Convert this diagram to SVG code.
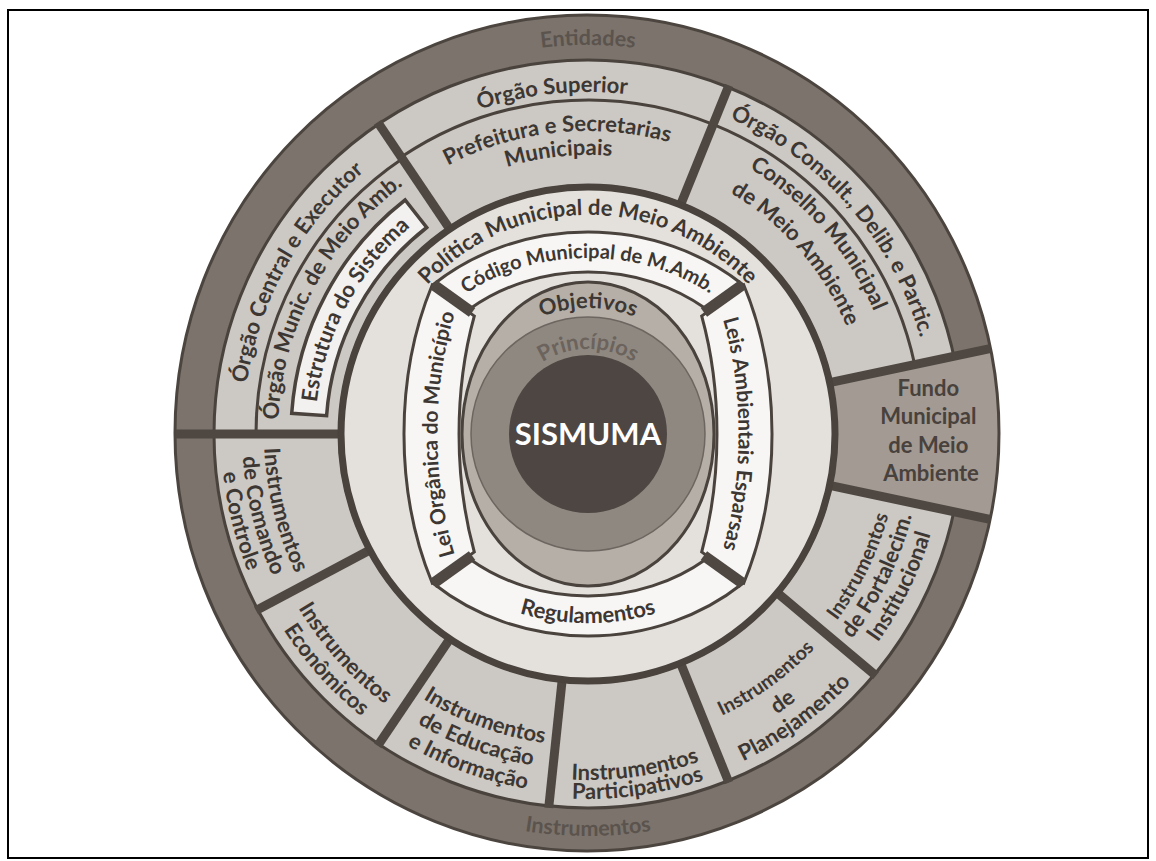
<svg xmlns="http://www.w3.org/2000/svg" width="1156" height="861" viewBox="0 0 1156 861">
<defs>
<style>
.t{font-family:Lato,"Liberation Sans",sans-serif;font-weight:700;fill:#3d3733;font-size:22px}
.band{fill:#5b534d;font-size:21.5px}
.ln{fill:none;stroke:#4a433d;stroke-width:3}
.bar{stroke:#4f4842;stroke-width:9}
.box{fill:#f7f6f4;stroke:#4a433d;stroke-width:3}
</style>
<!-- outer band labels -->
<path id="pEnt" d="M -194.5 -336.9 A 389 389 0 0 1 194.5 -336.9"/>
<path id="pIns" d="M -201 348.1 A 402 402 0 0 0 201 348.1"/>
<!-- top group -->
<path id="pSup" d="M -176.1 -293.2 A 342 342 0 0 1 111.4 -323.4"/>
<path id="pPre1" d="M -178.1 -245.1 A 303 303 0 0 1 123.2 -276.8"/>
<path id="pPre2" d="M -164.0 -225.7 A 279 279 0 0 1 113.5 -254.9"/>
<!-- right group -->
<path id="pCon1" d="M 112.7 -327.1 A 346 346 0 0 1 339.6 -66.0"/>
<path id="pCon2" d="M 101.3 -294.1 A 311 311 0 0 1 305.3 -59.3"/>
<path id="pCon3" d="M 91.2 -264.7 A 280 280 0 0 1 274.8 -53.4"/>
<!-- left group -->
<path id="pCen1" d="M -345 0 A 345 345 0 0 1 -182.8 -292.6"/>
<path id="pCen2" d="M -309.8 10.8 A 310 310 0 0 1 -164.3 -262.9"/>
<path id="pCen3" d="M -272.8 9.5 A 273 273 0 0 1 -144.7 -231.5"/>
<!-- inner rings -->
<path id="pPol" d="M -189.7 -109.5 A 219 219 0 0 1 189.7 -109.5"/>
<path id="pCod" d="M -122 -140.3 A 202 176 0 0 1 122 -140.3"/>
<path id="pLei" d="M -130.2 130 A 150.5 259 0 0 1 -130.2 -130"/>
<path id="pLeis" d="M 130.2 -130 A 150.5 259 0 0 1 130.2 130"/>
<path id="pReg" d="M -122 155.3 A 214 189 0 0 0 122 155.3"/>
<path id="pObj" d="M -81 -96.5 A 126 126 0 0 1 81 -96.5"/>
<path id="pPri" d="M -79.9 -29.1 A 85 85 0 0 1 79.9 -29.1"/>
<!-- instrument segments -->
<path id="pCo1" d="M -311.4 -89.3 A 324 324 0 0 0 -233.1 225.1"/>
<path id="pCo2" d="M -332.6 -95.4 A 346 346 0 0 0 -248.9 240.4"/>
<path id="pCo3" d="M -352.8 -101.1 A 367 367 0 0 0 -264.0 254.9"/>
<path id="pEc1" d="M -330.6 70.3 A 338 338 0 0 0 -104.4 321.5"/>
<path id="pEc2" d="M -354.1 75.3 A 362 362 0 0 0 -111.9 344.3"/>
<path id="pEd1" d="M -239.0 200.6 A 312 312 0 0 0 54.2 307.3"/>
<path id="pEd2" d="M -257.4 216.0 A 336 336 0 0 0 58.3 330.9"/>
<path id="pEd3" d="M -275.8 231.4 A 360 360 0 0 0 62.5 354.5"/>
<path id="pPa1" d="M -129.6 320.8 A 346 346 0 0 0 213.0 272.7"/>
<path id="pPa2" d="M -136.7 338.5 A 365 365 0 0 0 224.7 287.6"/>
<path id="pPl1" d="M 32.6 310.3 A 312 312 0 0 0 285.0 126.9"/>
<path id="pPl2" d="M 35.3 336.1 A 338 338 0 0 0 308.8 137.5"/>
<path id="pPl3" d="M 37.8 360.0 A 362 362 0 0 0 330.7 147.2"/>
<path id="pFo1" d="M 173.9 257.8 A 311 311 0 0 0 310.3 -21.7"/>
<path id="pFo2" d="M 186.8 276.9 A 334 334 0 0 0 333.2 -23.3"/>
<path id="pFo3" d="M 199.6 296.0 A 357 357 0 0 0 356.1 -24.9"/>
</defs>

<rect width="1156" height="861" fill="#ffffff"/>
<rect x="8" y="10" width="1140" height="848" fill="none" stroke="#000" stroke-width="2"/>

<g transform="translate(588 434)">
  <!-- outer band -->
  <g id="outer-band">
    <ellipse cx="-1" cy="-1" rx="412" ry="418" fill="#7b736c"/>
    <circle r="312" fill="none" stroke="#ccc8c3" stroke-width="124"/>
    <circle r="374" class="ln"/>
  </g>

  <!-- Fundo Municipal de Meio Ambiente -->
  <g id="fundo">
    <path d="M 244.5 -52 L 402 -85.4 A 411 411 0 0 1 402 85.4 L 244.5 52 A 250 250 0 0 0 244.5 -52 Z" fill="#a29a93"/>
    <text class="t" text-anchor="middle" style="fill:#48413c">
      <tspan x="343" y="-38">Fundo</tspan>
      <tspan x="343" y="-10">Municipal</tspan>
      <tspan x="343" y="19">de Meio</tspan>
      <tspan x="343" y="47">Ambiente</tspan>
    </text>
  </g>

  <ellipse cx="-1" cy="-1" rx="412" ry="418" fill="none" stroke="#4c453f" stroke-width="3"/>

  <!-- sub-band arcs -->
  <g id="sub-arcs">
    <path class="ln" d="M -186.8 -276.9 A 334 334 0 0 1 125.1 -309.7"/>
    <path class="ln" d="M 125.1 -309.7 A 334 334 0 0 1 326.7 -69.4"/>
    <path class="ln" d="M -332 0 A 332 332 0 0 1 -185.7 -275.2"/>
  </g>

  <!-- segment dividers -->
  <g id="dividers" class="bar">
    <line x1="-138.1" y1="-204.8" x2="-210.3" y2="-311.7"/>
    <line x1="92.5" y1="-229" x2="140.9" y2="-348.6"/>
    <line x1="189.2" y1="158.8" x2="288" y2="241.7"/>
    <line x1="92.5" y1="229" x2="140.9" y2="348.6"/>
    <line x1="-25.8" y1="245.6" x2="-39.3" y2="373.9"/>
    <line x1="-138.1" y1="204.8" x2="-210.3" y2="311.7"/>
    <line x1="-218.1" y1="116" x2="-332" y2="176.5"/>
    <line x1="-247" y1="0" x2="-412" y2="0"/>
    <line x1="241.6" y1="-51.4" x2="402" y2="-85.4"/>
    <line x1="241.6" y1="51.4" x2="402" y2="85.4"/>
  </g>

  <g id="estrutura-box">
    <path d="M -296.3 -20.7 A 297 297 0 0 1 -182.9 -234 L -161.3 -206.5 A 262 262 0 0 0 -261.4 -18.3 Z" fill="#f3f1ef" stroke="#4a433d" stroke-width="3.5"/>
  </g>

  <!-- band labels -->
  <text class="t band"><textPath href="#pEnt" startOffset="50%" text-anchor="middle">Entidades</textPath></text>
  <text class="t band"><textPath href="#pIns" startOffset="50%" text-anchor="middle">Instrumentos</textPath></text>

  <g id="orgao-superior">
    <text class="t"><textPath href="#pSup" startOffset="50%" text-anchor="middle">Órgão Superior</textPath></text>
    <text class="t"><textPath href="#pPre1" startOffset="50%" text-anchor="middle">Prefeitura e Secretarias</textPath></text>
    <text class="t"><textPath href="#pPre2" startOffset="50%" text-anchor="middle">Municipais</textPath></text>
  </g>

  <g id="orgao-consultivo">
    <text class="t"><textPath href="#pCon1" startOffset="50%" text-anchor="middle">Órgão Consult., Delib. e Partic.</textPath></text>
    <text class="t"><textPath href="#pCon2" startOffset="50%" text-anchor="middle">Conselho Municipal</textPath></text>
    <text class="t"><textPath href="#pCon3" startOffset="50%" text-anchor="middle">de Meio Ambiente</textPath></text>
  </g>

  <g id="orgao-central">
    <text class="t"><textPath href="#pCen1" startOffset="50%" text-anchor="middle">Órgão Central e Executor</textPath></text>
    <text class="t"><textPath href="#pCen2" startOffset="50%" text-anchor="middle">Órgão Munic. de Meio Amb.</textPath></text>
    <text class="t"><textPath href="#pCen3" startOffset="50%" text-anchor="middle">Estrutura do Sistema</textPath></text>
  </g>

  <g id="instrumentos">
    <g id="comando">
      <text class="t"><textPath href="#pCo1" startOffset="50%" text-anchor="middle">Instrumentos</textPath></text>
      <text class="t"><textPath href="#pCo2" startOffset="50%" text-anchor="middle">de Comando</textPath></text>
      <text class="t"><textPath href="#pCo3" startOffset="50%" text-anchor="middle">e Controle</textPath></text>
    </g>
    <g id="economicos">
      <text class="t"><textPath href="#pEc1" startOffset="50%" text-anchor="middle">Instrumentos</textPath></text>
      <text class="t"><textPath href="#pEc2" startOffset="50%" text-anchor="middle">Econômicos</textPath></text>
    </g>
    <g id="educacao">
      <text class="t"><textPath href="#pEd1" startOffset="50%" text-anchor="middle">Instrumentos</textPath></text>
      <text class="t"><textPath href="#pEd2" startOffset="50%" text-anchor="middle">de Educação</textPath></text>
      <text class="t"><textPath href="#pEd3" startOffset="50%" text-anchor="middle">e Informação</textPath></text>
    </g>
    <g id="participativos">
      <text class="t"><textPath href="#pPa1" startOffset="50%" text-anchor="middle">Instrumentos</textPath></text>
      <text class="t"><textPath href="#pPa2" startOffset="50%" text-anchor="middle">Participativos</textPath></text>
    </g>
    <g id="planejamento">
      <text class="t" style="font-size:19.5px"><textPath href="#pPl1" startOffset="50%" text-anchor="middle">Instrumentos</textPath></text>
      <text class="t"><textPath href="#pPl2" startOffset="50%" text-anchor="middle">de</textPath></text>
      <text class="t"><textPath href="#pPl3" startOffset="50%" text-anchor="middle">Planejamento</textPath></text>
    </g>
    <g id="fortalecimento">
      <text class="t" style="font-size:20px"><textPath href="#pFo1" startOffset="50%" text-anchor="middle">Instrumentos</textPath></text>
      <text class="t"><textPath href="#pFo2" startOffset="50%" text-anchor="middle">de Fortalecim.</textPath></text>
      <text class="t"><textPath href="#pFo3" startOffset="50%" text-anchor="middle">Institucional</textPath></text>
    </g>
  </g>

  <!-- legal framework rings -->
  <g id="politica">
    <circle r="247" fill="#e4e1dd" stroke="#4a433d" stroke-width="7"/>
    <text class="t"><textPath href="#pPol" startOffset="50%" text-anchor="middle">Política Municipal de Meio Ambiente</textPath></text>
  </g>

  <g id="normas">
    <path id="codigo-box" class="box" d="M -154 -150 A 230 202 0 0 1 154 -150 L 118 -125.2 A 186 162 0 0 0 -118 -125.2 Z"/>
    <path id="regulamentos-box" class="box" d="M -154 150 A 230 202 0 0 0 154 150 L 118 125.2 A 186 162 0 0 1 -118 125.2 Z"/>
    <path id="lei-box" class="box" d="M -155.8 149 A 184 280 0 0 1 -155.8 -149 L -113.7 -118 A 129 250 0 0 0 -113.7 118 Z"/>
    <path id="leis-box" class="box" d="M 155.8 -149 A 184 280 0 0 1 155.8 149 L 113.7 118 A 129 250 0 0 0 113.7 -118 Z"/>
    <!-- dark joints between the four boxes -->
    <g class="bar" style="stroke-width:11">
      <line x1="-115.9" y1="-121.6" x2="-154.9" y2="-149.5"/>
      <line x1="115.9" y1="-121.6" x2="154.9" y2="-149.5"/>
      <line x1="-115.9" y1="121.6" x2="-154.9" y2="149.5"/>
      <line x1="115.9" y1="121.6" x2="154.9" y2="149.5"/>
    </g>
    <text class="t" style="font-size:20px"><textPath href="#pCod" startOffset="50%" text-anchor="middle">Código Municipal de M.Amb.</textPath></text>
    <text class="t"><textPath href="#pReg" startOffset="50%" text-anchor="middle">Regulamentos</textPath></text>
    <text class="t" style="font-size:21px"><textPath href="#pLei" startOffset="50%" text-anchor="middle">Lei Orgânica do Município</textPath></text>
    <text class="t" style="font-size:21px"><textPath href="#pLeis" startOffset="50%" text-anchor="middle">Leis Ambientais Esparsas</textPath></text>
  </g>

  <g id="objetivos">
    <ellipse rx="126" ry="152" fill="#b5afa8" stroke="#4a433d" stroke-width="3"/>
    <text class="t"><textPath href="#pObj" startOffset="50%" text-anchor="middle">Objetivos</textPath></text>
  </g>

  <g id="principios">
    <circle r="117" fill="#8f8881" stroke="#6d655f" stroke-width="1.5"/>
    <text class="t" style="fill:#6b635c"><textPath href="#pPri" startOffset="50%" text-anchor="middle">Princípios</textPath></text>
  </g>

  <g id="sismuma">
    <circle r="79" fill="#4e4642"/>
    <text class="t" x="0" y="11" text-anchor="middle" style="fill:#ffffff;font-size:31px">SISMUMA</text>
  </g>
</g>
</svg>
